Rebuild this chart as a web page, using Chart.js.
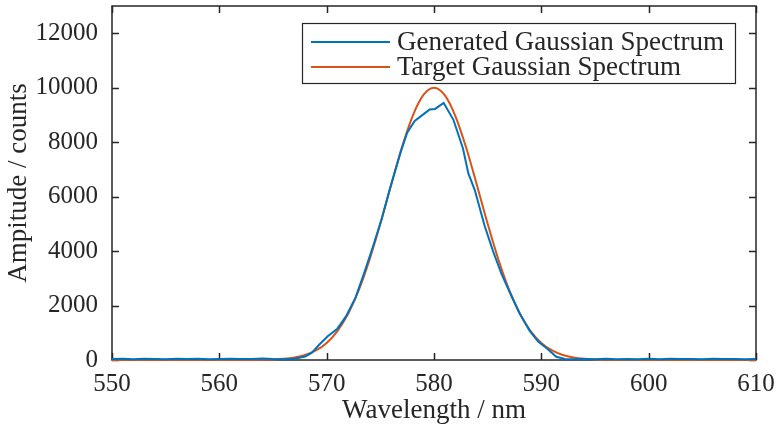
<!DOCTYPE html>
<html>
<head>
<meta charset="utf-8">
<script src="https://cdn.jsdelivr.net/npm/chart.js@4.4.0/dist/chart.umd.min.js"></script>
<style>
  html, body { margin: 0; padding: 0; background: #fff; }
  #wrap { width: 776px; height: 427px; }
</style>
</head>
<body>
<div id="wrap"><canvas id="spectrum"></canvas></div>
<script>
// values
const targetWavelength = [
  550, 551, 552, 553, 554, 555, 556, 557, 558, 559,
  560, 561, 562, 563, 564, 565, 566, 567, 568, 569,
  570, 571, 572, 573, 574, 575, 576, 577, 578, 579,
  580, 581, 582, 583, 584, 585, 586, 587, 588, 589,
  590, 591, 592, 593, 594, 595, 596, 597, 598, 599,
  600, 601, 602, 603, 604, 605, 606, 607, 608, 609, 610
];
const targetAmplitude = [
  0, 0, 0, 0, 0, 0, 0, 0, 0, 0,
  0, 0, 1, 3, 8, 20, 44, 93, 185, 350,
  627, 1060, 1698, 2574, 3689, 5003, 6420, 7794, 8951, 9727,
  10000, 9727, 8951, 7794, 6420, 5003, 3689, 2574, 1698, 1060,
  627, 350, 185, 93, 44, 20, 8, 3, 1, 0,
  0, 0, 0, 0, 0, 0, 0, 0, 0, 0, 0
];

const generatedWavelength = [
  550, 551, 552, 553, 554, 555, 556, 557, 558, 559,
  560, 561, 562, 563, 564, 565, 566, 567, 568, 568.6,
  569.3, 570.1, 571, 571.8, 572.7, 573.5, 574.3, 575.1, 575.9, 576.9,
  577.5, 578.2, 579, 579.6, 580.1, 580.9, 581.8, 582.7, 583.2, 583.8,
  584.7, 585.5, 586.3, 587.1, 588, 588.9, 589.7, 590.5, 591.4, 592.2,
  593, 594, 595, 596, 597, 598, 599, 600, 601, 602,
  603, 604, 605, 606, 607, 608, 609, 610
];
const generatedAmplitude = [
  35, 50, 30, 45, 40, 30, 50, 35, 45, 30,
  40, 50, 35, 40, 55, 35, 30, 45, 130, 260,
  560, 870, 1150, 1600, 2300, 3200, 4150, 5150, 6300, 7644,
  8350, 8780, 9020, 9200, 9220, 9440, 8830, 7770, 6850, 6240,
  4950, 4000, 3150, 2450, 1700, 1080, 680, 430, 120, 40,
  25, 35, 30, 45, 30, 40, 25, 45, 30, 50,
  35, 40, 30, 45, 35, 40, 30, 35
];

const xTicks = [550, 560, 570, 580, 590, 600, 610];
const yTicks = [0, 2000, 4000, 6000, 8000, 10000, 12000];

const seriesLabels = ['Generated Gaussian Spectrum', 'Target Gaussian Spectrum'];
const seriesColors = ['#0072BD', '#D95319'];

const FONT = "'Liberation Serif', 'DejaVu Serif', serif";
const INK = '#262626';

// box + inward ticks like the original axes
const boxPlugin = {
  id: 'boxPlugin',
  beforeDatasetsDraw(chart) {
    const { ctx, chartArea: a, scales } = chart;
    const len = 7;
    ctx.save();
    ctx.strokeStyle = INK;
    ctx.lineWidth = 1.5;
    ctx.strokeRect(a.left, a.top, a.right - a.left, a.bottom - a.top);
    ctx.beginPath();
    xTicks.forEach(v => {
      const px = Math.round(scales.x.getPixelForValue(v)) + 0.5;
      ctx.moveTo(px, a.bottom); ctx.lineTo(px, a.bottom - len);
      ctx.moveTo(px, a.top); ctx.lineTo(px, a.top + len);
    });
    yTicks.forEach(v => {
      const py = Math.round(scales.y.getPixelForValue(v)) + 0.5;
      ctx.moveTo(a.left, py); ctx.lineTo(a.left + len, py);
      ctx.moveTo(a.right, py); ctx.lineTo(a.right - len, py);
    });
    ctx.stroke();
    ctx.restore();
  }
};

// legend box drawn inside the plot, top right
const legendPlugin = {
  id: 'legendPlugin',
  afterDatasetsDraw(chart) {
    const { ctx } = chart;
    const box = { x: 302, y: 23, w: 433, h: 60 };
    ctx.save();
    ctx.fillStyle = '#fff';
    ctx.fillRect(box.x, box.y, box.w, box.h);
    ctx.strokeStyle = INK;
    ctx.lineWidth = 1.2;
    ctx.strokeRect(box.x + 0.5, box.y + 0.5, box.w, box.h);
    ctx.font = '27px ' + FONT;
    ctx.textBaseline = 'middle';
    chart.data.datasets.forEach((ds, i) => {
      const cy = box.y + 19 + i * 25;
      ctx.strokeStyle = ds.borderColor;
      ctx.lineWidth = 2;
      ctx.beginPath();
      ctx.moveTo(box.x + 9, cy);
      ctx.lineTo(box.x + 88, cy);
      ctx.stroke();
      ctx.fillStyle = INK;
      ctx.fillText(ds.label, box.x + 95, cy + 1);
    });
    ctx.restore();
  }
};

const ctx = document.getElementById('spectrum').getContext('2d');
new Chart(ctx, {
  type: 'scatter',
  data: {
    datasets: [
      {
        label: seriesLabels[0],
        data: generatedWavelength.map((w, i) => ({ x: w, y: generatedAmplitude[i] })),
        showLine: true,
        borderColor: seriesColors[0],
        backgroundColor: seriesColors[0],
        borderWidth: 2,
        pointRadius: 0,
        tension: 0,
        clip: false
      },
      {
        label: seriesLabels[1],
        data: targetWavelength.map((w, i) => ({ x: w, y: targetAmplitude[i] })),
        showLine: true,
        borderColor: seriesColors[1],
        backgroundColor: seriesColors[1],
        borderWidth: 2,
        pointRadius: 0,
        cubicInterpolationMode: 'monotone',
        clip: false
      }
    ]
  },
  options: {
    responsive: true,
    maintainAspectRatio: false,
    animation: false,
    events: [],
    layout: { padding: { top: 6, right: 20, left: 0, bottom: 0 } },
    plugins: {
      legend: { display: false },
      tooltip: { enabled: false }
    },
    scales: {
      x: {
        type: 'linear',
        min: 550,
        max: 610,
        afterBuildTicks: s => { s.ticks = xTicks.map(v => ({ value: v })); },
        afterFit: s => { s.height = 67; s.paddingLeft = 0; s.paddingRight = 0; },
        grid: { display: false },
        border: { display: false },
        ticks: {
          color: INK,
          font: { family: FONT, size: 25 },
          padding: 1,
          maxRotation: 0,
          autoSkip: false
        },
        title: {
          display: true,
          text: 'Wavelength / nm',
          color: INK,
          font: { family: FONT, size: 27 },
          padding: { top: 0, bottom: 0 }
        }
      },
      y: {
        type: 'linear',
        min: 0,
        max: 13000,
        afterBuildTicks: s => { s.ticks = yTicks.map(v => ({ value: v })); },
        afterFit: s => { s.width = 112; s.paddingTop = 0; s.paddingBottom = 0; },
        grid: { display: false },
        border: { display: false },
        ticks: {
          color: INK,
          font: { family: FONT, size: 25 },
          padding: 6,
          callback: v => String(v)
        },
        title: {
          display: true,
          text: 'Ampitude / counts',
          color: INK,
          font: { family: FONT, size: 27 },
          padding: { top: 3, bottom: 0 }
        }
      }
    }
  },
  plugins: [boxPlugin, legendPlugin]
});
</script>
</body>
</html>
